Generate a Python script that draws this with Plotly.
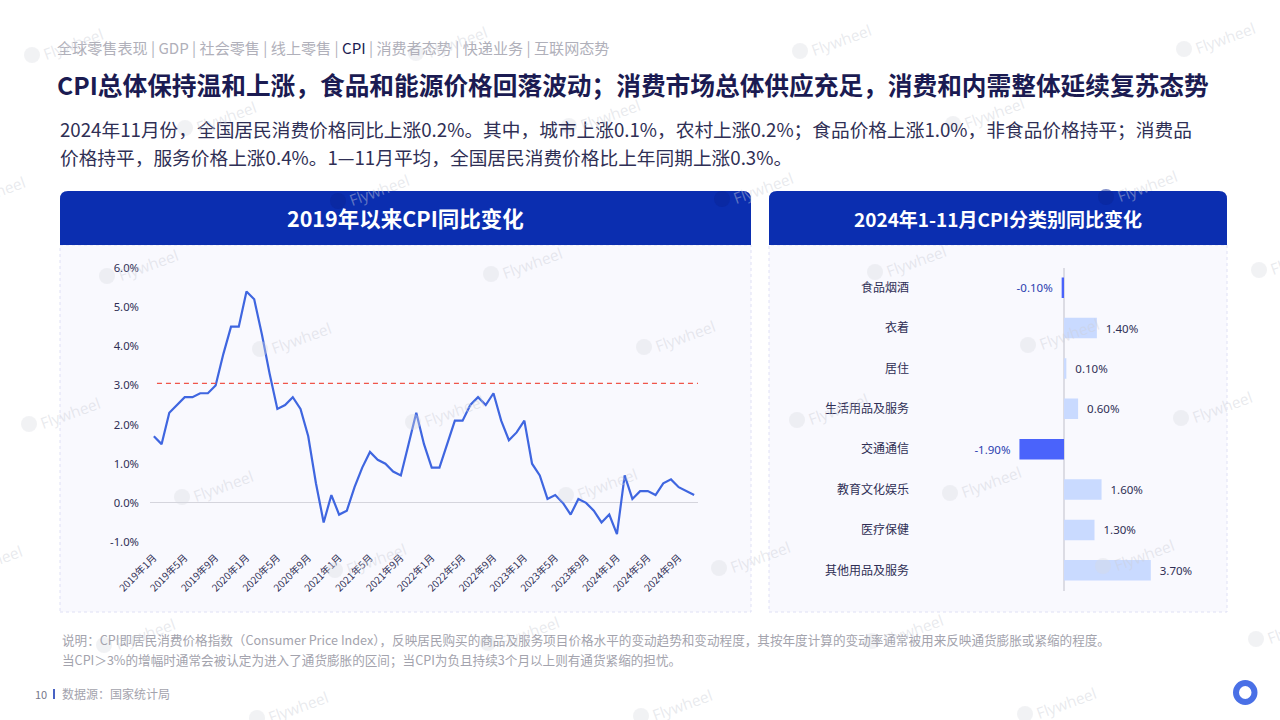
import plotly.graph_objects as go

# chart data
months = [f"{y}年{m}月" for y in range(2019, 2025) for m in range(1, 13)][:71]
cpi_yoy = [
    1.7, 1.5, 2.3, 2.5, 2.7, 2.7, 2.8, 2.8, 3.0, 3.8, 4.5, 4.5,
    5.4, 5.2, 4.3, 3.3, 2.4, 2.5, 2.7, 2.4, 1.7, 0.5, -0.5, 0.2,
    -0.3, -0.2, 0.4, 0.9, 1.3, 1.1, 1.0, 0.8, 0.7, 1.5, 2.3, 1.5,
    0.9, 0.9, 1.5, 2.1, 2.1, 2.5, 2.7, 2.5, 2.8, 2.1, 1.6, 1.8,
    2.1, 1.0, 0.7, 0.1, 0.2, 0.0, -0.3, 0.1, 0.0, -0.2, -0.5, -0.3,
    -0.8, 0.7, 0.1, 0.3, 0.3, 0.2, 0.5, 0.6, 0.4, 0.3, 0.2,
]
inflation_line = 3.05
y_ticks = [-1, 0, 1, 2, 3, 4, 5, 6]

categories = ["食品烟酒", "衣着", "居住", "生活用品及服务", "交通通信", "教育文化娱乐", "医疗保健", "其他用品及服务"]
category_yoy = [-0.1, 1.4, 0.1, 0.6, -1.9, 1.6, 1.3, 3.7]

W, H = 1280, 720
CJK = "Noto Sans CJK SC"
LATIN = "Noto Sans, Noto Sans CJK SC"
DARK = "#1b1b52"
TEXT = "#2f2f55"
GREY = "#a3a3ad"
NAVY = "#0b2eb0"


def px(x):
    return x / W


def py(y):
    return 1 - y / H


def label(x, y, text, size, color, anchor="left", angle=0, family=CJK):
    fig.add_annotation(
        x=px(x), y=py(y), xref="paper", yref="paper", text=text, showarrow=False,
        xanchor=anchor, yanchor="middle", textangle=angle,
        font=dict(family=family, size=size, color=color),
    )


def header_path(x0, y0, x1, y1, r):
    return (
        f"M {px(x0)} {py(y1)} L {px(x0)} {py(y0 + r)} Q {px(x0)} {py(y0)} {px(x0 + r)} {py(y0)} "
        f"L {px(x1 - r)} {py(y0)} Q {px(x1)} {py(y0)} {px(x1)} {py(y0 + r)} L {px(x1)} {py(y1)} Z"
    )


def panel(x0, x1):
    fig.add_shape(type="rect", xref="paper", yref="paper", layer="below",
                  x0=px(x0), x1=px(x1), y0=py(612), y1=py(245),
                  fillcolor="#f9f9fe", line=dict(color="#dfe0f5", width=1, dash="dot"))
    fig.add_shape(type="path", xref="paper", yref="paper", layer="below",
                  path=header_path(x0, 191, x1, 245, 8), fillcolor=NAVY, line=dict(width=0))


fig = go.Figure()

fig.add_trace(go.Scatter(
    x=list(range(len(months))), y=cpi_yoy, mode="lines", xaxis="x", yaxis="y",
    line=dict(color="#3f66e0", width=2.2), showlegend=False,
))
fig.add_trace(go.Scatter(
    x=[0.4, 70.8], y=[inflation_line, inflation_line], mode="lines", xaxis="x", yaxis="y", cliponaxis=False,
    line=dict(color="#f0554a", width=1.2, dash="5px,4px"), showlegend=False,
))

bar_text = [f"\u00a0\u00a0{v:.2f}%\u00a0\u00a0" for v in category_yoy]
fig.add_trace(go.Bar(
    x=category_yoy, y=categories, orientation="h", xaxis="x2", yaxis="y2",
    marker=dict(color=["#4a63fb" if v < 0 else "#c9daff" for v in category_yoy], line=dict(width=0)),
    text=bar_text, textposition="outside", cliponaxis=False,
    textfont=dict(family=LATIN, size=11.5, color=["#2a40b0" if v < 0 else TEXT for v in category_yoy]),
    showlegend=False,
))

panel(60, 751)
panel(769, 1227)

label(55, 47.5,
      '全球零售表现 | GDP | 社会零售 | 线上零售 | <span style="color:#1b1b52">CPI</span> | 消费者态势 | 快递业务 | 互联网态势',
      15.1, "#b0b0ba")
label(55, 84, "<b>CPI总体保持温和上涨，食品和能源价格回落波动；消费市场总体供应充足，消费和内需整体延续复苏态势</b>", 24.7, DARK)
label(58, 128.5, "2024年11月份，全国居民消费价格同比上涨0.2%。其中，城市上涨0.1%，农村上涨0.2%；食品价格上涨1.0%，非食品价格持平；消费品", 18.7, TEXT)
label(58, 156.5, "价格持平，服务价格上涨0.4%。1—11月平均，全国居民消费价格比上年同期上涨0.3%。", 18.7, TEXT)
label(405, 217.5, "<b>2019年以来CPI同比变化</b>", 21.5, "#ffffff", anchor="center")
label(998, 218, "<b>2024年1-11月CPI分类别同比变化</b>", 19, "#ffffff", anchor="center")
label(60, 639, "说明：CPI即居民消费价格指数（Consumer Price Index），反映居民购买的商品及服务项目价格水平的变动趋势和变动程度，其按年度计算的变动率通常被用来反映通货膨胀或紧缩的程度。", 12.6, GREY)
label(60, 659, "当CPI＞3%的增幅时通常会被认定为进入了通货膨胀的区间；当CPI为负且持续3个月以上则有通货紧缩的担忧。", 12.6, GREY)
label(33, 694, "10", 11, "#77778a")
label(60, 693, "数据源：国家统计局", 12, GREY)
fig.add_shape(type="line", xref="paper", yref="paper", x0=px(54), x1=px(54), y0=py(689), y1=py(699),
              line=dict(color=NAVY, width=1.5))

# logo ring
fig.add_shape(type="circle", xref="paper", yref="paper", x0=px(1236), x1=px(1254.5), y0=py(702), y1=py(683),
              fillcolor="#ffffff", line=dict(color="#4a70e6", width=6))

# watermark lattice
for i in range(-8, 9):
    for j in range(-4, 5):
        wx = 875 + 153 * i - 78 * j
        wy = 272 + 73 * i + 148 * j
        if -60 < wx < W + 20 and -10 < wy < H + 30:
            in_header = 191 < wy < 245 and (60 < wx < 751 or 769 < wx < 1227)
            fig.add_shape(type="circle", xref="paper", yref="paper", layer="above",
                          x0=px(wx - 8), x1=px(wx + 8), y0=py(wy + 8), y1=py(wy - 8),
                          fillcolor="rgba(10,35,150,0.5)" if in_header else "rgba(215,217,224,0.35)",
                          line=dict(width=0))
            label(wx + 41, wy - 11, "Flywheel", 15.5, "rgba(205,207,216,0.45)", anchor="center", angle=-20,
                  family="Open Sans")

fig.update_layout(
    width=W, height=H, margin=dict(l=0, r=0, t=0, b=0), paper_bgcolor="#ffffff",
    plot_bgcolor="rgba(0,0,0,0)", bargap=0.49, showlegend=False,
    xaxis=dict(
        domain=[px(150), px(698)], range=[-0.5, 70.5], tickmode="array", automargin=False,
        tickvals=list(range(0, len(months), 4)), ticktext=months[::4], tickangle=-45,
        tickfont=dict(family=CJK, size=10, color=TEXT), showgrid=False, zeroline=False,
        showline=False, ticks="", ticklabelstandoff=7,
    ),
    yaxis=dict(
        domain=[py(542), py(268)], range=[-1, 6], tickvals=y_ticks, automargin=False,
        ticktext=[f"{v:.1f}%" for v in y_ticks], tickfont=dict(family=LATIN, size=11.3, color=TEXT),
        showgrid=False, zeroline=True, zerolinecolor="#d5d5dd", zerolinewidth=1,
        showline=False, ticks="", ticklabelstandoff=10,
    ),
    xaxis2=dict(
        domain=[px(920), px(1220)], range=[-6.14, 6.65], anchor="y2", showgrid=False, automargin=False,
        showticklabels=False, zeroline=True, zerolinecolor="#dcdce4", zerolinewidth=1.5,
        showline=False, ticks="",
    ),
    yaxis2=dict(
        domain=[py(590.5), py(267.5)], anchor="x2", autorange="reversed", showgrid=False, automargin=False,
        zeroline=False, showline=False, ticks="", ticklabelstandoff=10,
        tickfont=dict(family=CJK, size=12, color=TEXT),
    ),
)

fig.write_html("out.html", config=dict(displayModeBar=False), post_script="document.body.style.margin='0';")
